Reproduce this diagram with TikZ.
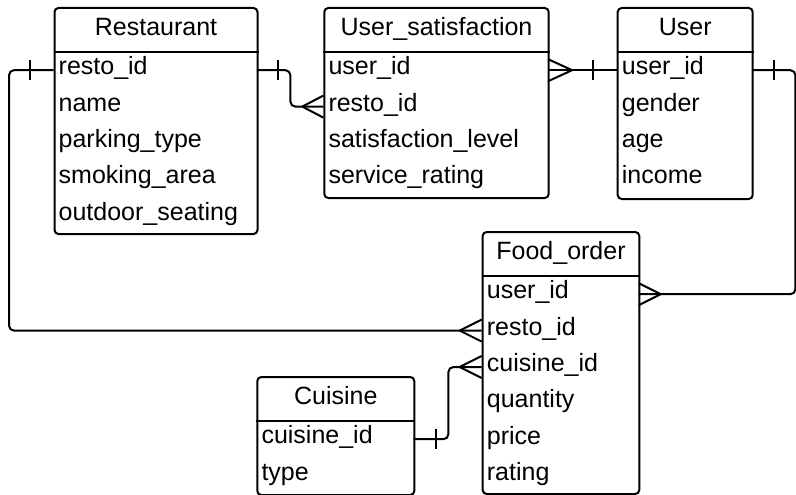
\documentclass[tikz,border=0pt]{standalone}
\usepackage{fontspec}
\setmainfont{Liberation Sans}
\usetikzlibrary{calc}

% crow's foot (many) end: #1 = point on the box edge, #2 = +1 apex to the right, -1 apex to the left, #3 = apex distance
\newcommand\manyend[3]{%
  \draw[sep] ($(#1)+(#2*#3,0)$) -- ($(#1)+(0,11)$)
             ($(#1)+(#2*#3,0)$) -- ($(#1)+(0,-11)$);}
% single bar (one) end: #1 = point on the box edge, #2 = horizontal offset of the bar
\newcommand\oneend[2]{%
  \draw[sep] ($(#1)+(#2,10)$) -- ($(#1)+(#2,-10)$);}

\tikzset{
  every node/.style={font=\fontsize{25}{30}\selectfont},
  entity/.style={draw, line width=2pt, rounded corners=4pt, anchor=north west, inner sep=0pt},
  title/.style={anchor=north, inner sep=0pt, text height=28pt, text depth=17pt,
                text width=#1, align=center},
  fld/.style={inner xsep=5pt, inner ysep=0pt, text height=22.5pt, text depth=13.5pt,
              text width=#1, align=left},
  conn/.style={line width=2pt, rounded corners=5pt},
  sep/.style={line width=2pt},
}

\begin{document}
\begin{tikzpicture}[x=1pt, y=1pt]
\useasboundingbox (0,0) rectangle (796,-495);

% ---------- Restaurant ----------
\node[entity, minimum width=203pt, minimum height=226pt] (rest) at (53.5,-7) {};
\node[title=193pt] (rest-t) at (rest.north) {Restaurant};
\node[fld=193pt, anchor=north west] (r1) at (53.5,-52) {resto\_id};
\node[fld=193pt, anchor=north] (r2) at (r1.south) {name};
\node[fld=193pt, anchor=north] (r3) at (r2.south) {parking\_type};
\node[fld=193pt, anchor=north] (r4) at (r3.south) {smoking\_area};
\node[fld=193pt, anchor=north] (r5) at (r4.south) {outdoor\_seating};
\draw[sep] (rest.west |- r1.north) -- (rest.east |- r1.north);

% ---------- User_satisfaction ----------
\node[entity, minimum width=224.4pt, minimum height=190pt] (us) at (323.3,-7) {};
\node[title=214.4pt] (us-t) at (us.north) {User\_satisfaction};
\node[fld=214.4pt, anchor=north west] (s1) at (323.3,-52) {user\_id};
\node[fld=214.4pt, anchor=north] (s2) at (s1.south) {resto\_id};
\node[fld=214.4pt, anchor=north] (s3) at (s2.south) {satisfaction\_level};
\node[fld=214.4pt, anchor=north] (s4) at (s3.south) {service\_rating};
\draw[sep] (us.west |- s1.north) -- (us.east |- s1.north);

% ---------- User ----------
\node[entity, minimum width=135pt, minimum height=191pt] (user) at (616.7,-7) {};
\node[title=125pt] (user-t) at (user.north) {User};
\node[fld=125pt, anchor=north west] (u1) at (616.7,-52) {user\_id};
\node[fld=125pt, anchor=north] (u2) at (u1.south) {gender};
\node[fld=125pt, anchor=north] (u3) at (u2.south) {age};
\node[fld=125pt, anchor=north] (u4) at (u3.south) {income};
\draw[sep] (user.west |- u1.north) -- (user.east |- u1.north);

% ---------- Food_order ----------
\node[entity, minimum width=156.6pt, minimum height=262pt] (fo) at (481.7,-231) {};
\node[title=146.6pt] (fo-t) at (fo.north) {Food\_order};
\node[fld=146.6pt, anchor=north west] (f1) at (481.7,-276) {user\_id};
\node[fld=146.6pt, anchor=north] (f2) at (f1.south) {resto\_id};
\node[fld=146.6pt, anchor=north] (f3) at (f2.south) {cuisine\_id};
\node[fld=146.6pt, anchor=north] (f4) at (f3.south) {quantity};
\node[fld=146.6pt, anchor=north] (f5) at (f4.south) {price};
\node[fld=146.6pt, anchor=north] (f6) at (f5.south) {rating};
\draw[sep] (fo.west |- f1.north) -- (fo.east |- f1.north);

% ---------- Cuisine ----------
\node[entity, minimum width=157pt, minimum height=118pt] (cu) at (256.3,-376) {};
\node[title=147pt] (cu-t) at (cu.north) {Cuisine};
\node[fld=147pt, anchor=north west] (c1) at (256.3,-421) {cuisine\_id};
\node[fld=147pt, anchor=north] (c2) at (c1.south) {type};
\draw[sep] (cu.west |- c1.north) -- (cu.east |- c1.north);

% ---------- Relationships ----------
% Restaurant 1 -- * Food_order
\draw[conn] (r1.west) -- ++(-44.5,0) |- (f2.west);
\oneend{r1.west}{-23.5}
\manyend{f2.west}{-1}{22}

% Restaurant 1 -- * User_satisfaction
\draw[conn] (r1.east) -- ++(33.5,0) |- (s2.west);
\oneend{r1.east}{21.5}
\manyend{s2.west}{-1}{21}

% User 1 -- * User_satisfaction
\draw[conn] (u1.west) -- (s1.east);
\oneend{u1.west}{-23.4}
\manyend{s1.east}{1}{24}

% User 1 -- * Food_order
\draw[conn] (u1.east) -- ++(43.3,0) |- (f1.east);
\oneend{u1.east}{21.6}
\manyend{f1.east}{1}{22}

% Cuisine 1 -- * Food_order
\draw[conn] (c1.east) -- ++(34.7,0) |- (f3.west);
\oneend{c1.east}{22}
\manyend{f3.west}{-1}{22}
\end{tikzpicture}
\end{document}
